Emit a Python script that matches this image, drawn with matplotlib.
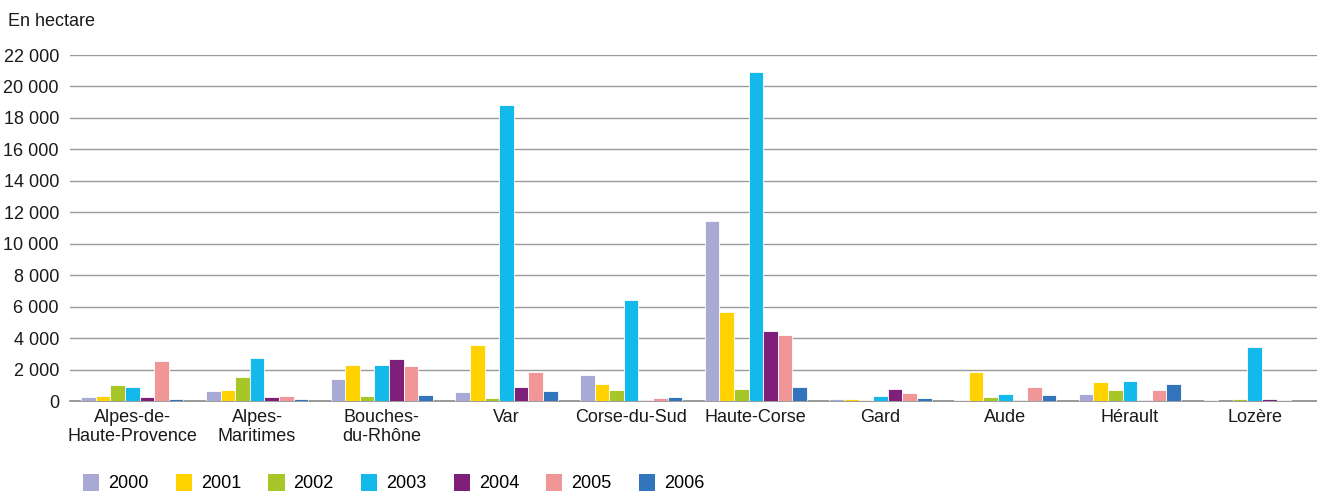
import matplotlib
matplotlib.use("Agg")
import matplotlib.pyplot as plt
from matplotlib.patches import Patch
import numpy as np

plt.rcParams['font.family'] = ['Liberation Sans', 'DejaVu Sans']

categories = ["Alpes-de-\nHaute-Provence", "Alpes-\nMaritimes", "Bouches-\ndu-Rhône", "Var",
              "Corse-du-Sud", "Haute-Corse", "Gard", "Aude", "Hérault", "Lozère"]
years = ["2000", "2001", "2002", "2003", "2004", "2005", "2006"]

v2000 = [250, 630, 1370, 570, 1640, 11470, 130, 80, 440, 50]
v2001 = [340, 670, 2270, 3560, 1070, 5640, 130, 1830, 1200, 20]
v2002 = [990, 1540, 300, 170, 670, 760, 80, 230, 670, 130]
v2003 = [860, 2720, 2290, 18800, 6450, 20900, 320, 460, 1260, 3410]
v2004 = [230, 230, 2650, 900, 80, 4450, 760, 60, 80, 100]
v2005 = [2570, 320, 2250, 1830, 190, 4200, 500, 880, 670, 60]
v2006 = [130, 150, 380, 630, 230, 890, 190, 380, 1090, 20]
series = [v2000, v2001, v2002, v2003, v2004, v2005, v2006]
colors = ["#A9A9D6", "#FFD200", "#A7C628", "#14B9EC", "#7E1F7A", "#F19696", "#3275BC"]

yticks = list(range(0, 22001, 2000))
ytick_labels = ["0" if t == 0 else f"{t//1000} 000" for t in yticks]

fig = plt.figure(figsize=(13.17, 4.93), dpi=100)
ax = fig.add_axes([70/1317, 92/493, 1247/1317, (401-55)/493])

x = np.arange(len(categories))
w = 0.117
for i, (vals, c) in enumerate(zip(series, colors)):
    ax.bar(x + (i - 3) * w, vals, width=w, color=c, edgecolor="white", linewidth=0.6, zorder=3)

ax.set_xlim(-0.5, len(categories) - 0.5)
ax.set_ylim(0, 22000)
ax.set_yticks(yticks)
ax.set_yticklabels(ytick_labels, fontsize=13)
ax.set_xticks(x)
ax.set_xticklabels(categories, fontsize=13, linespacing=1.1)
ax.tick_params(axis='both', length=0, colors='#1a1a1a')
ax.tick_params(axis='y', pad=8)
ax.tick_params(axis='x', pad=6)
ax.grid(axis='y', color='#9a9a9a', linewidth=1.0, zorder=0)
for s in ['top', 'right', 'left']:
    ax.spines[s].set_visible(False)
ax.spines['bottom'].set_color('#8a8a8a')
ax.spines['bottom'].set_linewidth(1.2)

fig.text(8/1317, 1 - 22/493, "En hectare", fontsize=13, va='center', ha='left', color='#1a1a1a')

handles = [Patch(facecolor=c, edgecolor='none') for c in colors]
fig.legend(handles, years, ncol=7, loc='center left', bbox_to_anchor=(83/1317, 1 - 483/493),
           frameon=False, fontsize=13, handlelength=0.9, handleheight=1.1,
           handletextpad=0.5, columnspacing=1.5, borderaxespad=0, borderpad=0)

fig.savefig("out.png", dpi=100)
